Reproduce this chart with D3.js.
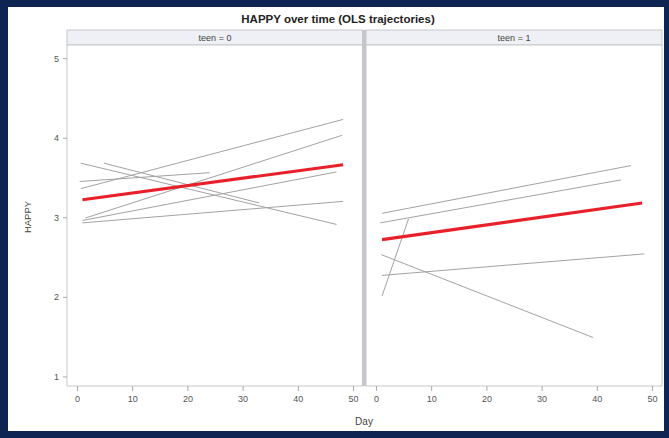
<html>
<head>
<title>HAPPY over time</title>
<script src="https://d3js.org/d3.v7.min.js"></script>
<style>
  body { margin: 0; background: #0e2452; }
  svg text { font-family: "Liberation Sans", Arial, sans-serif; }
</style>
</head>
<body>
<svg width="669" height="438"></svg>
<script>
// chart values
var panelLabels = ["teen = 0", "teen = 1"];
var xTicks = [0, 10, 20, 30, 40, 50];
var yTicks = [1, 2, 3, 4, 5];

// individual OLS trajectories: [startDay, startHappy], [endDay, endHappy]
var teen0Lines = [
  [[0.7, 3.36], [48.2, 4.23]],
  [[1.5, 2.99], [48.0, 4.03]],
  [[1.0, 2.96], [47.0, 3.57]],
  [[1.0, 2.93], [48.2, 3.20]],
  [[0.7, 3.68], [47.0, 2.91]],
  [[4.9, 3.68], [33.0, 3.18]],
  [[0.5, 3.45], [24.0, 3.56]]
];
var teen1Lines = [
  [[1.1, 3.05], [46.2, 3.65]],
  [[0.8, 2.93], [44.4, 3.47]],
  [[1.1, 2.01], [5.9, 2.98]],
  [[1.0, 2.53], [39.3, 1.49]],
  [[1.1, 2.27], [48.6, 2.54]]
];
// average trajectory (red)
var teen0Mean = [[1.0, 3.22], [48.2, 3.66]];
var teen1Mean = [[1.1, 2.72], [48.2, 3.18]];

var svg = d3.select("svg");

svg.append("rect")
  .attr("x", 8).attr("y", 7)
  .attr("width", 656).attr("height", 424)
  .attr("fill", "white");

var plotTop = 45, plotBottom = 386, stripTop = 30;
var panelX = [67, 366];
var panelW = 296;

var yScale = d3.scaleLinear()
  .domain([0.88, 5.165])
  .range([plotBottom, plotTop]);

var panelData = [
  { lines: teen0Lines, mean: teen0Mean },
  { lines: teen1Lines, mean: teen1Mean }
];

panelData.forEach(function(p, i) {
  var xScale = d3.scaleLinear()
    .domain([-1.8, 51.8])
    .range([panelX[i], panelX[i] + panelW]);
  var line = d3.line()
    .x(function(d) { return xScale(d[0]); })
    .y(function(d) { return yScale(d[1]); });

  var g = svg.append("g");

  // strip header
  g.append("rect")
    .attr("x", panelX[i]).attr("y", stripTop)
    .attr("width", panelW).attr("height", plotTop - stripTop)
    .attr("fill", "#eef0f6")
    .attr("stroke", "#c6c8cc");
  g.append("text")
    .attr("x", panelX[i] + panelW / 2)
    .attr("y", stripTop + 11)
    .attr("text-anchor", "middle")
    .attr("font-size", 9)
    .attr("fill", "#444")
    .text(panelLabels[i]);

  // frame
  g.append("rect")
    .attr("x", panelX[i]).attr("y", plotTop)
    .attr("width", panelW).attr("height", plotBottom - plotTop)
    .attr("fill", "white")
    .attr("stroke", "#c6c8cc");

  // bottom axis
  var xAxis = g.append("g")
    .attr("transform", "translate(0," + plotBottom + ")")
    .call(d3.axisBottom(xScale).tickValues(xTicks).tickSize(5).tickPadding(5));
  xAxis.select(".domain").remove();
  xAxis.selectAll("line").attr("stroke", "#aaa");
  xAxis.selectAll("text").attr("font-size", 9).attr("fill", "#555")
    .style("font-family", "'Liberation Sans', Arial, sans-serif");

  // trajectories
  g.selectAll(".traj")
    .data(p.lines)
    .enter().append("path")
    .attr("class", "traj")
    .attr("d", line)
    .attr("fill", "none")
    .attr("stroke", "#a2a2a2")
    .attr("stroke-width", 1);

  g.append("path")
    .attr("d", line(p.mean))
    .attr("fill", "none")
    .attr("stroke", "#e8202a")
    .attr("stroke-width", 3.2);
});

// gap between panels
svg.append("rect")
  .attr("x", 362).attr("y", stripTop)
  .attr("width", 4).attr("height", plotBottom - stripTop)
  .attr("fill", "#c4c6ca");

// left axis
var yAxis = svg.append("g")
  .attr("transform", "translate(" + panelX[0] + ",0)")
  .call(d3.axisLeft(yScale).tickValues(yTicks).tickFormat(d3.format("d"))
    .tickSize(4).tickPadding(4));
yAxis.select(".domain").remove();
yAxis.selectAll("line").attr("stroke", "#aaa");
yAxis.selectAll("text").attr("font-size", 9).attr("fill", "#555")
  .style("font-family", "'Liberation Sans', Arial, sans-serif");

// title and axis labels
svg.append("text")
  .attr("x", 338).attr("y", 23)
  .attr("text-anchor", "middle")
  .attr("font-size", 11.5)
  .attr("font-weight", "bold")
  .attr("fill", "#222")
  .text("HAPPY over time (OLS trajectories)");

svg.append("text")
  .attr("x", 364).attr("y", 425)
  .attr("text-anchor", "middle")
  .attr("font-size", 10)
  .attr("fill", "#444")
  .text("Day");

svg.append("text")
  .attr("transform", "translate(31,217) rotate(-90)")
  .attr("text-anchor", "middle")
  .attr("font-size", 9.5)
  .attr("fill", "#444")
  .text("HAPPY");
</script>
</body>
</html>
